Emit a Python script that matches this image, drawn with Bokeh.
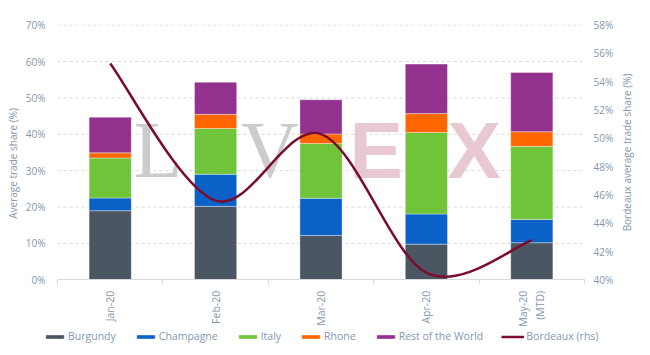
import math
from bokeh.plotting import figure
from bokeh.models import (ColumnDataSource, Range1d, LinearAxis, FixedTicker,
                          PrintfTickFormatter, Legend, LegendItem, Label)
from bokeh.embed import file_html
from bokeh.resources import INLINE

# ---------------- data ----------------
months = ["Jan-20", "Feb-20", "Mar-20", "Apr-20", "May-20\n(MTD)"]
burgundy = [19.0, 20.2, 12.2, 9.8, 10.2]
champagne = [3.5, 8.8, 10.2, 8.3, 6.4]
italy = [11.0, 12.6, 15.1, 22.4, 20.1]
rhone = [1.4, 3.9, 2.6, 5.2, 4.0]
rest_world = [9.8, 8.8, 9.4, 13.6, 16.3]
bordeaux = [55.3, 45.6, 50.3, 40.5, 42.8]
left_ticks = [0, 10, 20, 30, 40, 50, 60, 70]
right_ticks = [40, 42, 44, 46, 48, 50, 52, 54, 56, 58]

series_names = ["Burgundy", "Champagne", "Italy", "Rhone", "Rest of the World"]
left_title = "Average trade share (%)"
right_title = "Bordeaux average trade share (%)"
colors = ["#4a5661", "#0a62c8", "#70c43a", "#ff6600", "#93318f"]
line_color = "#7a0c2f"
text_color = "#8497b0"
grid_color = "#d9d9d9"
FONT = "Open Sans"

n = len(months)
xs = list(range(n))
src = ColumnDataSource(dict(x=xs, Burgundy=burgundy, Champagne=champagne,
                            Italy=italy, Rhone=rhone, RoW=rest_world))

# whole canvas is the frame; the plotting area (57..584 x 24.7..279.3 px)
# is obtained through the ranges, axes sit at fixed locations
PX_X = 105.4           # px per category
PX_Y = 254.6 / 70      # px per 1 % (left)
PX_R = 254.6 / 18      # px per 1 % (right)
x0 = -0.5 - 57 / PX_X
x1 = -0.5 + (650 - 57) / PX_X
yl0 = -(355 - 279.3) / PX_Y
yl1 = 279.3 / PX_Y
yr0 = 40 - (355 - 279.3) / PX_R
yr1 = 40 + 279.3 / PX_R

p = figure(width=650, height=355, output_backend="svg", toolbar_location=None,
           x_range=Range1d(x0, x1), y_range=Range1d(yl0, yl1),
           min_border=0, min_border_left=0, min_border_right=0,
           min_border_top=0, min_border_bottom=0, x_axis_location=None,
           y_axis_location=None)
p.outline_line_color = None
p.background_fill_color = "white"
p.border_fill_color = "white"
p.grid.visible = False
p.extra_y_ranges = {"right": Range1d(yr0, yr1)}

# dashed horizontal gridlines across the plotting area
gl = [t for t in left_ticks if t > 0]
p.segment(x0=[-0.5] * len(gl), x1=[n - 0.5] * len(gl), y0=gl, y1=gl,
          line_color=grid_color, line_dash="3 3", line_width=1, level="underlay")

# watermark (behind bars)
wm = [("L", 0.22, 35.8, "Liberation Serif", "normal", "#cccccc", "80px"),
      ("I", 0.86, 35.8, "Liberation Serif", "normal", "#cccccc", "80px"),
      ("V", 1.24, 35.8, "Liberation Serif", "normal", "#cccccc", "80px"),
      ("E", 2.27, 35.5, "Liberation Sans", "bold", "#e8c9d2", "80px"),
      ("X", 3.2, 35.5, "Liberation Sans", "bold", "#e8c9d2", "80px")]
for t, x, y, f, st, c, s in wm:
    p.add_layout(Label(x=x, y=y, text=t, text_font=f, text_font_style=st,
                       text_color=c, text_font_size=s, text_baseline="alphabetic",
                       level="underlay"))

stack_keys = ["Burgundy", "Champagne", "Italy", "Rhone", "RoW"]
bars = p.vbar_stack(stack_keys, x="x", width=0.4, color=colors, source=src,
                    line_color="white", line_width=0.6, line_alpha=0.6)

# smoothed Bordeaux line (Catmull-Rom -> cubic Bezier)
P = [(xs[i], bordeaux[i]) for i in range(n)]
def pt(i):
    return P[min(max(i, 0), n - 1)]
bz = dict(x0=[], y0=[], x1=[], y1=[], cx0=[], cy0=[], cx1=[], cy1=[])
for i in range(n - 1):
    p0, p1, p2, p3 = pt(i - 1), pt(i), pt(i + 1), pt(i + 2)
    bz["x0"].append(p1[0]); bz["y0"].append(p1[1])
    bz["x1"].append(p2[0]); bz["y1"].append(p2[1])
    bz["cx0"].append(p1[0] + (p2[0] - p0[0]) / 6); bz["cy0"].append(p1[1] + (p2[1] - p0[1]) / 6)
    bz["cx1"].append(p2[0] - (p3[0] - p1[0]) / 6); bz["cy1"].append(p2[1] - (p3[1] - p1[1]) / 6)
line_r = p.bezier(x0="x0", y0="y0", x1="x1", y1="y1", cx0="cx0", cy0="cy0",
                  cx1="cx1", cy1="cy1", source=ColumnDataSource(bz),
                  line_color=line_color, line_width=2.5, y_range_name="right")

# x axis at y = 0
ax_x = LinearAxis(fixed_location=0, bounds=(-0.5, n - 0.5),
                  ticker=FixedTicker(ticks=xs, minor_ticks=[i - 0.5 for i in range(n + 1)]))
ax_x.major_label_overrides = {i: m for i, m in enumerate(months)}
ax_x.major_label_orientation = math.pi / 2
ax_x.major_tick_line_color = None
ax_x.major_tick_out = 0
ax_x.major_tick_in = 0
ax_x.minor_tick_line_color = grid_color
ax_x.minor_tick_out = 5
ax_x.minor_tick_in = 0
ax_x.axis_line_color = grid_color
ax_x.major_label_text_color = text_color
ax_x.major_label_text_font = FONT
ax_x.major_label_text_font_size = "10.5px"
ax_x.major_label_standoff = 6
p.add_layout(ax_x, "below")

ax_l = LinearAxis(fixed_location=-0.5, ticker=FixedTicker(ticks=left_ticks),
                  formatter=PrintfTickFormatter(format="%d%%"))
p.add_layout(ax_l, "left")
ax_r = LinearAxis(fixed_location=n - 0.5, y_range_name="right",
                  ticker=FixedTicker(ticks=right_ticks),
                  formatter=PrintfTickFormatter(format="%d%%"))
p.add_layout(ax_r, "right")

for ax, so in [(ax_l, 12), (ax_r, 9)]:
    ax.axis_line_color = None
    ax.major_tick_line_color = None
    ax.major_tick_out = 0
    ax.major_tick_in = 0
    ax.minor_tick_line_color = None
    ax.minor_tick_out = 0
    ax.major_label_text_color = text_color
    ax.major_label_text_font = FONT
    ax.major_label_text_font_size = "10px"
    ax.major_label_standoff = so

# axis titles (both read bottom-to-top)
p.add_layout(Label(x=x0 + 12 / PX_X, y=32.0, text=left_title, angle=math.pi / 2,
                   text_align="center", text_baseline="middle", text_color=text_color,
                   text_font=FONT, text_font_size="10px"))
p.add_layout(Label(x=x0 + 626 / PX_X, y=35.0, text=right_title, angle=math.pi / 2,
                   text_align="center", text_baseline="middle", text_color=text_color,
                   text_font=FONT, text_font_size="10px"))

items = [LegendItem(label=series_names[i], renderers=[bars[i]]) for i in range(5)]
items.append(LegendItem(label="Bordeaux (rhs)", renderers=[line_r]))
legend = Legend(items=items, orientation="horizontal", location=(43, 12),
                glyph_width=23, glyph_height=5, label_standoff=2, spacing=18,
                padding=0, margin=0, border_line_color=None,
                background_fill_alpha=0,
                label_text_color=text_color, label_text_font=FONT,
                label_text_font_size="10.5px", label_height=12)
p.add_layout(legend, "center")

open("out.html", "w").write(file_html(p, INLINE))
